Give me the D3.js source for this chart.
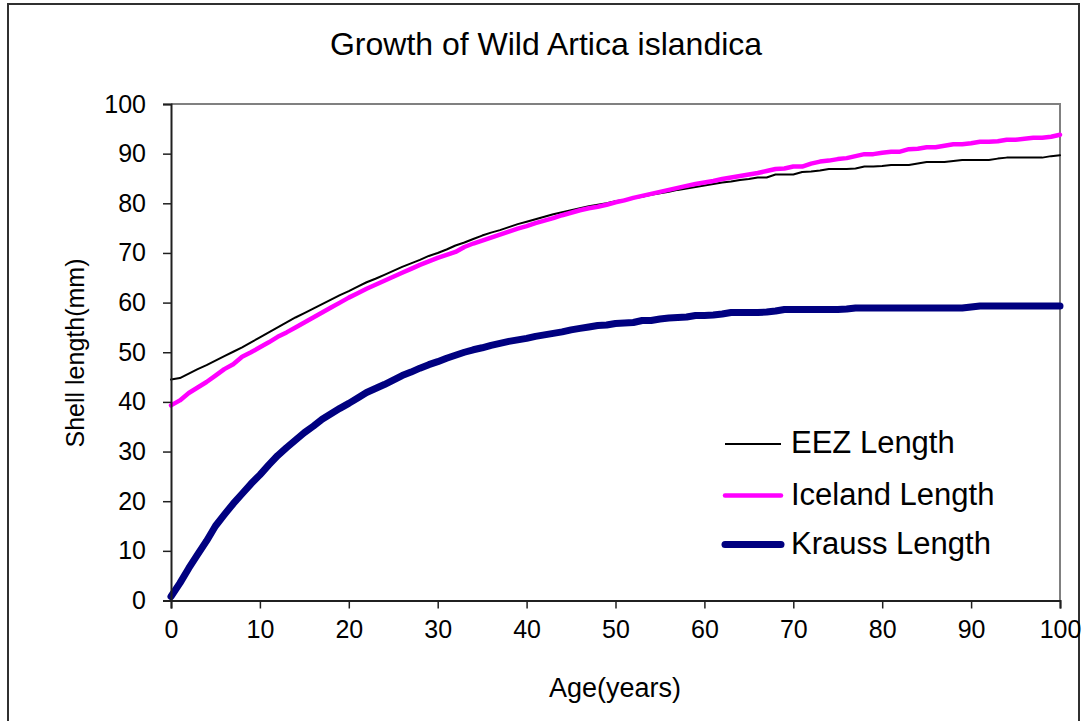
<!DOCTYPE html>
<html>
<head>
<meta charset="utf-8">
<script src="https://cdn.jsdelivr.net/npm/d3@7/dist/d3.min.js"></script>
<style>
  html, body { margin: 0; padding: 0; background: #fff; }
  svg { display: block; }
  text { font-family: "Liberation Sans", Arial, sans-serif; fill: #000; }
</style>
</head>
<body>
<svg id="chart" width="1085" height="721"></svg>
<script>
// Shell length (mm) by age (years), one value per year from 0 to 100
const ages = d3.range(0, 101);

const eezLength = [
  44.5, 44.8, 45.7, 46.6, 47.4, 48.3, 49.2, 50.1, 51.0, 52.0,
  53.0, 54.0, 55.0, 56.0, 57.0, 57.9, 58.8, 59.7, 60.6, 61.5,
  62.3, 63.2, 64.1, 64.8, 65.6, 66.4, 67.2, 67.9, 68.6, 69.4,
  70.0, 70.7, 71.5, 72.1, 72.8, 73.5, 74.1, 74.6, 75.2, 75.8,
  76.3, 76.8, 77.3, 77.8, 78.2, 78.6, 79.0, 79.4, 79.7, 80.0,
  80.4, 80.7, 81.0, 81.3, 81.7, 82.0, 82.3, 82.7, 83.0, 83.3,
  83.6, 83.9, 84.2, 84.4, 84.7, 84.9, 85.2, 85.2, 85.8, 85.8,
  85.8, 86.3, 86.4, 86.6, 86.9, 86.9, 86.9, 87.0, 87.4, 87.4,
  87.5, 87.7, 87.7, 87.7, 88.0, 88.3, 88.3, 88.3, 88.5, 88.7,
  88.7, 88.7, 88.7, 89.0, 89.2, 89.2, 89.2, 89.2, 89.2, 89.5,
  89.7
];

const icelandLength = [
  39.3, 40.3, 41.8, 42.9, 44.0, 45.3, 46.6, 47.6, 49.1, 50.0,
  51.0, 52.0, 53.1, 54.0, 55.0, 56.0, 57.0, 58.0, 59.0, 60.0,
  61.0, 61.9, 62.8, 63.6, 64.4, 65.2, 66.0, 66.8, 67.6, 68.3,
  69.0, 69.6, 70.2, 71.2, 71.9, 72.5, 73.1, 73.7, 74.3, 74.9,
  75.4, 76.0, 76.5, 77.0, 77.6, 78.1, 78.6, 79.0, 79.3, 79.7,
  80.2, 80.6, 81.1, 81.5, 81.9, 82.3, 82.7, 83.1, 83.5, 83.9,
  84.2, 84.5, 84.9, 85.2, 85.5, 85.8, 86.1, 86.5, 86.9, 87.0,
  87.4, 87.4, 88.0, 88.4, 88.6, 88.9, 89.1, 89.5, 89.9, 89.9,
  90.2, 90.4, 90.4, 90.9, 91.0, 91.3, 91.3, 91.6, 91.9, 91.9,
  92.1, 92.4, 92.4, 92.5, 92.8, 92.8, 93.0, 93.2, 93.2, 93.4,
  93.8
];

const kraussLength = [
  0.8, 3.5, 6.5, 9.3, 12.0, 15.0, 17.3, 19.5, 21.5, 23.5,
  25.3, 27.3, 29.2, 30.8, 32.3, 33.8, 35.1, 36.5, 37.6, 38.7,
  39.7, 40.8, 41.9, 42.7, 43.5, 44.4, 45.3, 46.0, 46.8, 47.5,
  48.1, 48.8, 49.4, 50.0, 50.5, 50.9, 51.4, 51.8, 52.2, 52.5,
  52.8, 53.2, 53.5, 53.8, 54.1, 54.5, 54.8, 55.1, 55.4, 55.5,
  55.8, 55.9, 56.0, 56.4, 56.4, 56.7, 56.9, 57.0, 57.1, 57.4,
  57.4, 57.5, 57.7, 58.0, 58.0, 58.0, 58.0, 58.1, 58.3, 58.6,
  58.6, 58.6, 58.6, 58.6, 58.6, 58.6, 58.7, 58.9, 58.9, 58.9,
  58.9, 58.9, 58.9, 58.9, 58.9, 58.9, 58.9, 58.9, 58.9, 58.9,
  59.1, 59.3, 59.3, 59.3, 59.3, 59.3, 59.3, 59.3, 59.3, 59.3,
  59.3
];

const xTicks = [0, 10, 20, 30, 40, 50, 60, 70, 80, 90, 100];
const yTicks = [0, 10, 20, 30, 40, 50, 60, 70, 80, 90, 100];

const seriesNames = ["EEZ Length", "Iceland Length", "Krauss Length"];
const seriesValues = [eezLength, icelandLength, kraussLength];
const seriesColors = ["#000000", "#FF00FF", "#000080"];
const seriesWidths = [2, 4.5, 7];

const svg = d3.select("#chart");

// outer chart frame
svg.append("rect")
  .attr("x", 8).attr("y", 4)
  .attr("width", 1071).attr("height", 740)
  .attr("fill", "none")
  .attr("stroke", "#303030")
  .attr("stroke-width", 2);

const plot = { left: 171, right: 1060, top: 104, bottom: 600.5 };

const x = d3.scaleLinear().domain([0, 100]).range([plot.left, plot.right]);
const y = d3.scaleLinear().domain([0, 100]).range([plot.bottom, plot.top]);

// plot-area border (top and right edges in grey)
svg.append("path")
  .attr("d", `M${plot.left},${plot.top}H${plot.right}V${plot.bottom}`)
  .attr("fill", "none")
  .attr("stroke", "#808080")
  .attr("stroke-width", 2);

// series lines
const line = d3.line()
  .x((d, i) => x(ages[i]))
  .y(d => y(d));

seriesValues.forEach((vals, k) => {
  svg.append("path")
    .datum(vals)
    .attr("d", line)
    .attr("fill", "none")
    .attr("stroke", seriesColors[k])
    .attr("stroke-width", seriesWidths[k])
    .attr("stroke-linejoin", "round")
    .attr("stroke-linecap", "round");
});

// axes
const xAxis = d3.axisBottom(x).tickValues(xTicks).tickSize(8).tickPadding(12).tickFormat(d3.format("d"));
const yAxis = d3.axisLeft(y).tickValues(yTicks).tickSize(8).tickPadding(12).tickFormat(d3.format("d"));

const gx = svg.append("g").attr("transform", `translate(0,${plot.bottom})`).call(xAxis);
const gy = svg.append("g").attr("transform", `translate(${plot.left},0)`).call(yAxis);

[gx, gy].forEach(g => {
  g.select(".domain").attr("stroke", "#202020").attr("stroke-width", 2);
  g.selectAll(".tick line").attr("stroke", "#202020").attr("stroke-width", 1.5);
  g.selectAll(".tick text")
    .attr("fill", "#000")
    .style("font-family", '"Liberation Sans", Arial, sans-serif')
    .style("font-size", "25px");
});
gy.selectAll(".tick text").attr("dx", "-0.2em");

// title
svg.append("text")
  .attr("x", 546).attr("y", 55)
  .attr("text-anchor", "middle")
  .style("font-size", "32px")
  .text("Growth of Wild Artica islandica");

// axis titles
svg.append("text")
  .attr("x", 615).attr("y", 697)
  .attr("text-anchor", "middle")
  .style("font-size", "27px")
  .text("Age(years)");

svg.append("text")
  .attr("transform", "translate(84,353) rotate(-90)")
  .attr("text-anchor", "middle")
  .style("font-size", "25px")
  .text("Shell length(mm)");

// legend
const legend = svg.append("g");
const legendRows = [444, 495.5, 544.5];
seriesNames.forEach((name, k) => {
  legend.append("line")
    .attr("x1", 725).attr("x2", 781)
    .attr("y1", legendRows[k]).attr("y2", legendRows[k])
    .attr("stroke", seriesColors[k])
    .attr("stroke-width", seriesWidths[k])
    .attr("stroke-linecap", k === 0 ? "butt" : "round");
  legend.append("text")
    .attr("x", 791).attr("y", legendRows[k] + 9)
    .style("font-size", "31px")
    .text(name);
});
</script>
</body>
</html>
